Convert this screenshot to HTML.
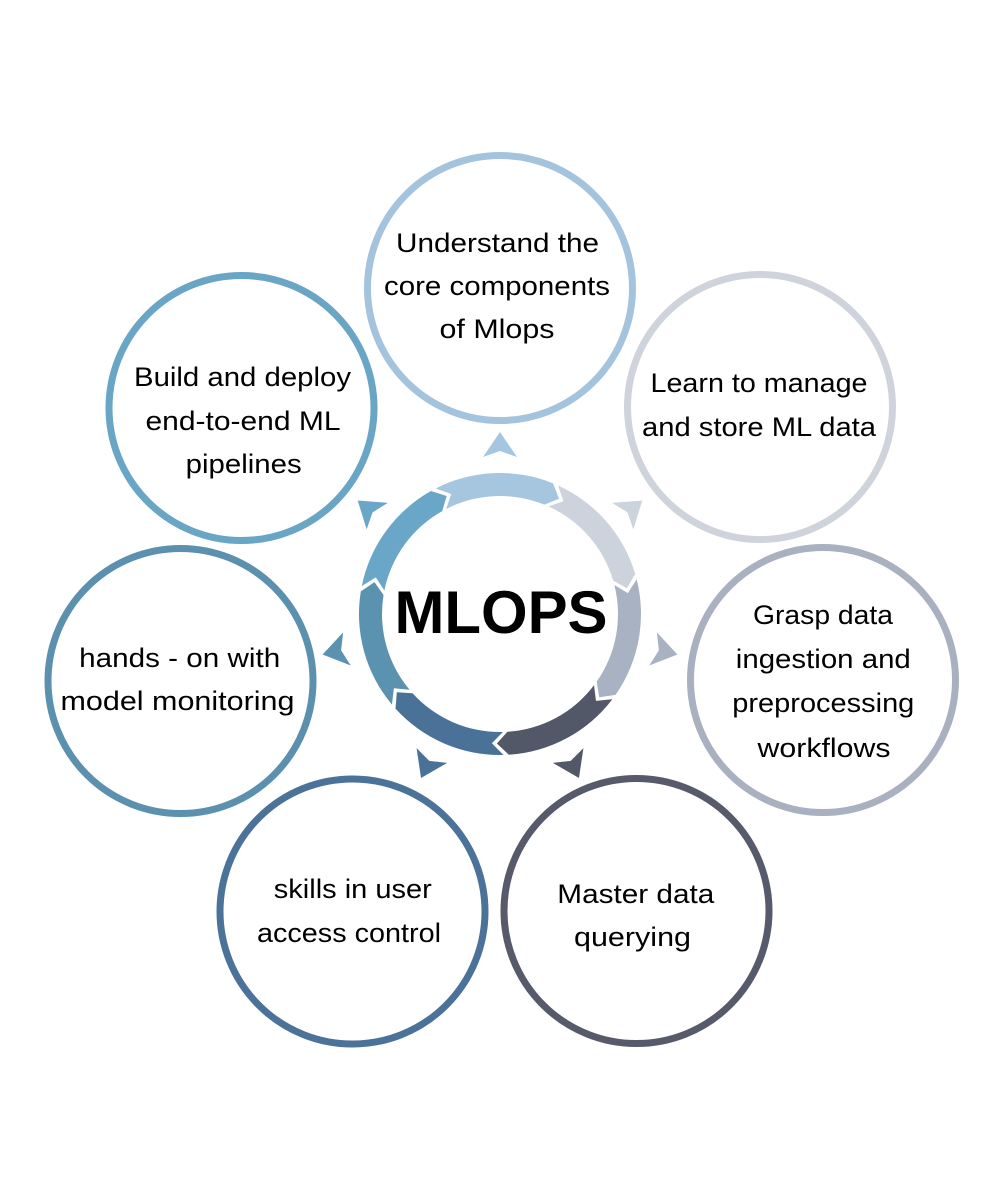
<!DOCTYPE html>
<html>
<head>
<meta charset="utf-8">
<style>
  html, body { margin: 0; padding: 0; background: #ffffff; }
  body { width: 1000px; height: 1200px; overflow: hidden; }
  svg { display: block; }
  .t { font-family: "Liberation Sans", Arial, sans-serif; font-size: 26.5px; fill: #000; }
  .big { font-family: "Liberation Sans", Arial, sans-serif; font-size: 60px; font-weight: bold; fill: #000; }
</style>
</head>
<body>
<svg width="1000" height="1200" viewBox="0 0 1000 1200" xmlns="http://www.w3.org/2000/svg">
  <rect x="0" y="0" width="1000" height="1200" fill="#ffffff"/>

  <defs>
    <path id="seg" d="M 435.74 488.49 A 141 141 0 0 1 553.08 483.37 L 559.02 498.73 L 544.42 504.68 A 118 118 0 0 0 446.22 508.97 L 451.25 494.03 Z"/>
    <path id="tri" d="M 500 432 L 517 457 L 500 451 L 483 457 Z"/>
  </defs>

  <!-- Outer circles -->
  <g fill="#ffffff" stroke-width="7">
    <circle cx="500" cy="288" r="132.5" stroke="#a4c3dd"/>
    <circle cx="760" cy="407" r="132.5" stroke="#cfd3dc"/>
    <circle cx="823" cy="680" r="132.5" stroke="#a9b1c0"/>
    <circle cx="636.5" cy="911" r="132.5" stroke="#565a6b"/>
    <circle cx="352.5" cy="911.5" r="132.5" stroke="#4b7298"/>
    <circle cx="180.5" cy="681" r="132.5" stroke="#5b91ae"/>
    <circle cx="241.5" cy="408" r="132.5" stroke="#69a5c5"/>
  </g>

  <!-- Ring segments -->
  <use href="#seg" fill="#a6c6df" transform="rotate(0 500 614)"/>
  <use href="#seg" fill="#cdd3dc" transform="rotate(51.4286 500 614)"/>
  <use href="#seg" fill="#a9b2c2" transform="rotate(102.8571 500 614)"/>
  <use href="#seg" fill="#535869" transform="rotate(154.2857 500 614)"/>
  <use href="#seg" fill="#4a7299" transform="rotate(205.7143 500 614)"/>
  <use href="#seg" fill="#5a92b0" transform="rotate(257.1429 500 614)"/>
  <use href="#seg" fill="#69a6c7" transform="rotate(308.5714 500 614)"/>

  <!-- Outward triangles -->
  <use href="#tri" fill="#a6c6df" transform="rotate(0 500 614)"/>
  <use href="#tri" fill="#cdd3dc" transform="rotate(51.4286 500 614)"/>
  <use href="#tri" fill="#a9b2c2" transform="rotate(102.8571 500 614)"/>
  <use href="#tri" fill="#535869" transform="rotate(154.2857 500 614)"/>
  <use href="#tri" fill="#4a7299" transform="rotate(205.7143 500 614)"/>
  <use href="#tri" fill="#5a92b0" transform="rotate(257.1429 500 614)"/>
  <use href="#tri" fill="#69a6c7" transform="rotate(308.5714 500 614)"/>

  <!-- Center text -->
  <text class="big" x="501" y="633" text-anchor="middle" textLength="213" lengthAdjust="spacingAndGlyphs">MLOPS</text>

  <!-- Top circle -->
  <text class="t" x="497.5" y="252" text-anchor="middle" textLength="203" lengthAdjust="spacingAndGlyphs">Understand the</text>
  <text class="t" x="497" y="295" text-anchor="middle" textLength="226" lengthAdjust="spacingAndGlyphs">core components</text>
  <text class="t" x="497" y="338" text-anchor="middle" textLength="115" lengthAdjust="spacingAndGlyphs">of Mlops</text>

  <!-- Build -->
  <text class="t" x="242.5" y="386" text-anchor="middle" textLength="217" lengthAdjust="spacingAndGlyphs">Build and deploy</text>
  <text class="t" x="243" y="430" text-anchor="middle" textLength="195" lengthAdjust="spacingAndGlyphs">end-to-end ML</text>
  <text class="t" x="243.7" y="473" text-anchor="middle" textLength="116" lengthAdjust="spacingAndGlyphs">pipelines</text>

  <!-- Learn -->
  <text class="t" x="759" y="392" text-anchor="middle" textLength="217" lengthAdjust="spacingAndGlyphs">Learn to manage</text>
  <text class="t" x="759" y="436" text-anchor="middle" textLength="234" lengthAdjust="spacingAndGlyphs">and store ML data</text>

  <!-- Grasp -->
  <text class="t" x="823" y="624" text-anchor="middle" textLength="140" lengthAdjust="spacingAndGlyphs">Grasp data</text>
  <text class="t" x="823.3" y="668" text-anchor="middle" textLength="175" lengthAdjust="spacingAndGlyphs">ingestion and</text>
  <text class="t" x="823.3" y="712" text-anchor="middle" textLength="182" lengthAdjust="spacingAndGlyphs">preprocessing</text>
  <text class="t" x="824" y="757" text-anchor="middle" textLength="133" lengthAdjust="spacingAndGlyphs">workflows</text>

  <!-- Hands-on -->
  <text class="t" x="179.7" y="667" text-anchor="middle" textLength="201" lengthAdjust="spacingAndGlyphs">hands - on with</text>
  <text class="t" x="177.5" y="710" text-anchor="middle" textLength="234" lengthAdjust="spacingAndGlyphs">model monitoring</text>

  <!-- Skills -->
  <text class="t" x="352.8" y="898" text-anchor="middle" textLength="158" lengthAdjust="spacingAndGlyphs">skills in user</text>
  <text class="t" x="349" y="942" text-anchor="middle" textLength="184" lengthAdjust="spacingAndGlyphs">access control</text>

  <!-- Master -->
  <text class="t" x="635.8" y="903" text-anchor="middle" textLength="157" lengthAdjust="spacingAndGlyphs">Master data</text>
  <text class="t" x="632.5" y="946" text-anchor="middle" textLength="117" lengthAdjust="spacingAndGlyphs">querying</text>
</svg>
</body>
</html>
